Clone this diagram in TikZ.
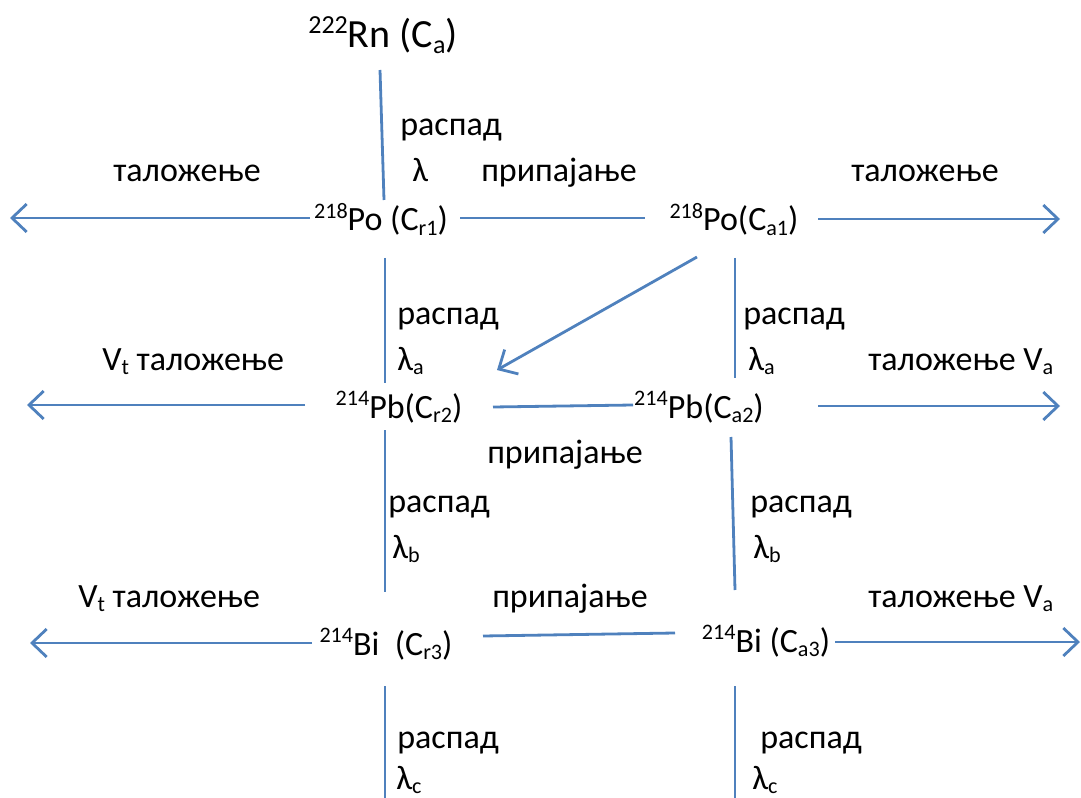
\documentclass[tikz,border=0pt]{standalone}
\usepackage{fontspec}
\setmainfont{Carlito}
\usetikzlibrary{arrows.meta,calc}
\definecolor{lineblue}{RGB}{79,129,189}
% raised / lowered small text for isotope numbers and indices
\newcommand\hi[1]{\raisebox{.36em}{\scalebox{.65}{#1}}}
\newcommand\lo[1]{\raisebox{-.14em}{\scalebox{.65}{#1}}}
\begin{document}
\begin{tikzpicture}[x=0.75pt,y=-0.75pt,
  every node/.style={inner sep=0pt,font=\fontsize{25.5pt}{30pt}\selectfont},
  lbl/.style={anchor=base west},
  spec/.style={anchor=base},
  link/.style={draw=lineblue,line width=2.1pt},
  outarrow/.style={link,-{Straight Barb[length=11pt,width=21pt,line width=2.1pt]}}]
\useasboundingbox (0,0) rectangle (1081,798);

% species
\node[spec,font=\fontsize{30pt}{34pt}\selectfont] (rn) at (383,48) {\hi{222}Rn (C\lo{a})};
\node[spec] (po1) at (381,231) {\hi{218}Po (C\lo{r1})};
\node[spec] (po2) at (734,231) {\hi{218}Po(C\lo{a1})};
\node[spec] (pb1) at (399,418) {\hi{214}Pb(C\lo{r2})};
\node[spec] (pb2) at (699,418) {\hi{214}Pb(C\lo{a2})};
\node[spec] (bi1) at (386,655) {\hi{214}Bi\ \ (C\lo{r3})};
\node[spec] (bi2) at (766,652) {\hi{214}Bi (C\lo{a3})};

% process labels
\node[lbl] (rasp0) at (400,136) {распад};
\node[lbl] (tal1) at (113,182) {таложење};
\node[lbl] (lam0) at (412,182) {λ};
\node[lbl] (prip1) at (481,182) {припајање};
\node[lbl] (tal2) at (851,182) {таложење};

\node[lbl] (rasp1L) at (397,325) {распад};
\node[lbl] (rasp1R) at (743,325) {распад};
\node[lbl] (lam1L) at (397,370) {λ\lo{a}};
\node[lbl] (lam1R) at (748,370) {λ\lo{a}};
\node[lbl] (vt1) at (102,370) {V\lo{t} таложење};
\node[lbl] (tva1) at (868,370) {таложење V\lo{a}};
\node[lbl] (prip2) at (487,463) {припајање};

\node[lbl] (rasp2L) at (388,512) {распад};
\node[lbl] (rasp2R) at (750,512) {распад};
\node[lbl] (lam2L) at (392,558) {λ\lo{b}};
\node[lbl] (lam2R) at (753,558) {λ\lo{b}};
\node[lbl] (vt2) at (78,607) {V\lo{t} таложење};
\node[lbl] (prip3) at (492,607) {припајање};
\node[lbl] (tva2) at (868,607) {таложење V\lo{a}};

\node[lbl] (rasp3L) at (397,748) {распад};
\node[lbl] (rasp3R) at (760,748) {распад};
\node[lbl] (lam3L) at (396,789) {λ\lo{c}};
\node[lbl] (lam3R) at (752,789) {λ\lo{c}};

% free ends of the outgoing arrows and lines
\coordinate (eL1) at (10,218);
\coordinate (eR1) at (1060,219);
\coordinate (eL2) at (27,405);
\coordinate (eR2) at (1060,406);
\coordinate (eL3) at (30,643);
\coordinate (eR3) at (1080,642);
\coordinate (eB1) at (385,800);
\coordinate (eB2) at (735,800);

% decay chain, vertical
\draw[link] ($(rn.base)+(-3,22)$) -- ($(po1.base)+(3,-31)$);
\draw[link] ($(po1.base)+(4,27)$) -- ($(pb1.base)+(-14,-35)$);
\draw[link] ($(po2.base)+(1,27)$) -- ($(pb2.base)+(36,-40)$);
\draw[link] ($(pb1.base)+(-14,12)$) -- ($(bi1.base)+(-1,-63)$);
\draw[link] ($(pb2.base)+(32,19)$) -- ($(bi2.base)+(-31,-62)$);
\draw[link] ($(bi1.base)+(-1,31)$) -- (eB1);
\draw[link] ($(bi2.base)+(-31,34)$) -- (eB2);

% attachment, horizontal
\draw[link] ($(po1.base)+(79,-13)$) -- ($(po2.base)+(-89,-13)$);
\draw[link] ($(pb1.base)+(94,-11)$) -- ($(pb2.base)+(-66,-13)$);
\draw[link] ($(bi1.base)+(97,-19)$) -- ($(bi2.base)+(-91,-19)$);
\draw[outarrow] ($(po2.base)+(-37,26)$) -- ($(pb1.base)+(98,-48)$);

% deposition
\draw[outarrow] ($(po1.base)+(-71,-13)$) -- (eL1);
\draw[outarrow] ($(po2.base)+(84,-12)$) -- (eR1);
\draw[outarrow] ($(pb1.base)+(-94,-13)$) -- (eL2);
\draw[outarrow] ($(pb2.base)+(119,-12)$) -- (eR2);
\draw[outarrow] ($(bi1.base)+(-74,-12)$) -- (eL3);
\draw[outarrow] ($(bi2.base)+(69,-10)$) -- (eR3);
\end{tikzpicture}
\end{document}
